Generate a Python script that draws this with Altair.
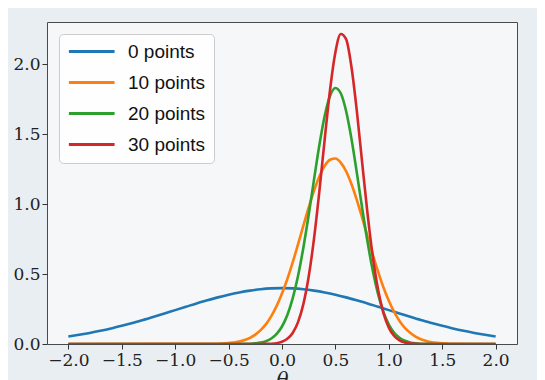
import altair as alt
import pandas as pd

# ---- data ----
series_labels = ["0 points", "10 points", "20 points", "30 points"]
series_colors = ["#1f77b4", "#ff7f0e", "#2ca02c", "#d62728"]

x_wide = [-2.0, -1.9, -1.8, -1.7, -1.6, -1.5, -1.4, -1.3, -1.2, -1.1, -1.0,
          -0.9, -0.8, -0.7, -0.6, -0.5, -0.4, -0.3, -0.2, -0.1, 0.0,
          0.1, 0.2, 0.3, 0.4, 0.5, 0.6, 0.7, 0.8, 0.9, 1.0,
          1.1, 1.2, 1.3, 1.4, 1.5, 1.6, 1.7, 1.8, 1.9, 2.0]
p0 = [0.054, 0.066, 0.079, 0.094, 0.111, 0.130, 0.150, 0.171, 0.194, 0.218, 0.242,
      0.266, 0.290, 0.312, 0.333, 0.352, 0.368, 0.381, 0.391, 0.397, 0.399,
      0.397, 0.391, 0.381, 0.368, 0.352, 0.333, 0.312, 0.290, 0.266, 0.242,
      0.218, 0.194, 0.171, 0.150, 0.130, 0.111, 0.094, 0.079, 0.066, 0.054]

x_narrow = [-2.0, -0.6, -0.55, -0.5, -0.45, -0.4, -0.35, -0.3, -0.25, -0.2, -0.15,
            -0.1, -0.05, 0.0, 0.05, 0.1, 0.15, 0.2, 0.25, 0.3, 0.35, 0.4, 0.45,
            0.5, 0.55, 0.6, 0.65, 0.7, 0.75, 0.8, 0.85, 0.9, 0.95, 1.0, 1.05,
            1.1, 1.15, 1.2, 1.25, 1.3, 1.35, 1.4, 1.45, 1.5, 1.55, 1.6, 2.0]
p10 = [0.0, 0.002, 0.004, 0.006, 0.011, 0.017, 0.028, 0.044, 0.067, 0.099, 0.142,
       0.199, 0.272, 0.360, 0.464, 0.583, 0.711, 0.845, 0.975, 1.095, 1.197, 1.273, 1.316,
       1.325, 1.296, 1.234, 1.143, 1.030, 0.903, 0.770, 0.638, 0.515, 0.404, 0.309, 0.229,
       0.165, 0.116, 0.080, 0.053, 0.034, 0.022, 0.013, 0.008, 0.005, 0.003, 0.001, 0.0]
p20 = [0.0, 0.0, 0.0, 0.0, 0.0, 0.0, 0.001, 0.002, 0.005, 0.010, 0.020,
       0.039, 0.072, 0.125, 0.207, 0.326, 0.486, 0.688, 0.923, 1.176, 1.421, 1.630, 1.773,
       1.829, 1.791, 1.664, 1.467, 1.226, 0.973, 0.733, 0.523, 0.354, 0.228, 0.139, 0.080,
       0.044, 0.023, 0.011, 0.005, 0.002, 0.001, 0.0, 0.0, 0.0, 0.0, 0.0, 0.0]
p30 = [0.0, 0.0, 0.0, 0.0, 0.0, 0.0, 0.0, 0.0, 0.0, 0.0, 0.001,
       0.002, 0.006, 0.016, 0.037, 0.079, 0.156, 0.285, 0.482, 0.754, 1.092, 1.464, 1.816,
       2.084, 2.214, 2.177, 1.980, 1.668, 1.299, 0.937, 0.625, 0.386, 0.221, 0.117, 0.057,
       0.026, 0.011, 0.004, 0.002, 0.0, 0.0, 0.0, 0.0, 0.0, 0.0, 0.0, 0.0]

x_ticks = [-2.0, -1.5, -1.0, -0.5, 0.0, 0.5, 1.0, 1.5, 2.0]
y_ticks = [0.0, 0.5, 1.0, 1.5, 2.0]

rows = []
for lab, xs, ys in [(series_labels[0], x_wide, p0),
                    (series_labels[1], x_narrow, p10),
                    (series_labels[2], x_narrow, p20),
                    (series_labels[3], x_narrow, p30)]:
    for xv, yv in zip(xs, ys):
        rows.append({"theta": xv, "density": yv, "series": lab})
df = pd.DataFrame(rows)

chart = alt.Chart(df).mark_line(
    strokeWidth=2.6, interpolate="monotone", clip=True
).encode(
    x=alt.X("theta:Q",
            scale=alt.Scale(domain=[-2.2, 2.2], nice=False, zero=False),
            axis=alt.Axis(values=x_ticks, format=".1f", title="θ",
                          labelPadding=3, titlePadding=2, labelFlush=False)),
    y=alt.Y("density:Q",
            scale=alt.Scale(domain=[0, 2.3], nice=False),
            axis=alt.Axis(values=y_ticks, format=".1f", title=None, labelPadding=2)),
    color=alt.Color("series:N",
                    scale=alt.Scale(domain=series_labels, range=series_colors),
                    legend=alt.Legend(title=None, orient="none", legendX=12, legendY=12,
                                      symbolType="M-1,0L5,0", symbolSize=232,
                                      symbolStrokeWidth=3,
                                      labelFont="Liberation Sans", labelFontSize=19,
                                      labelColor="#111111", labelOffset=42,
                                      rowPadding=11, padding=8,
                                      strokeColor="#cccccc",
                                      fillColor="rgba(255,255,255,0.85)",
                                      cornerRadius=4)),
).properties(
    width=470, height=322,
    autosize=alt.AutoSizeParams(type="none"),
    padding={"left": 39, "top": 14, "right": 20, "bottom": 50},
    background="#e8eef2",
).configure_view(
    stroke="#4a4a4a", strokeWidth=1, fill="#f5f7f9"
).configure_axis(
    grid=False, domain=False, tickColor="#333333", tickSize=5, tickWidth=1,
    labelFont="DejaVu Serif", labelFontSize=17, labelColor="#222222",
    titleFont="DejaVu Serif", titleFontStyle="italic", titleFontSize=20,
    titleFontWeight="normal", titleColor="#222222",
)

chart.save("out.html", embed_options={"renderer": "svg", "actions": False})
